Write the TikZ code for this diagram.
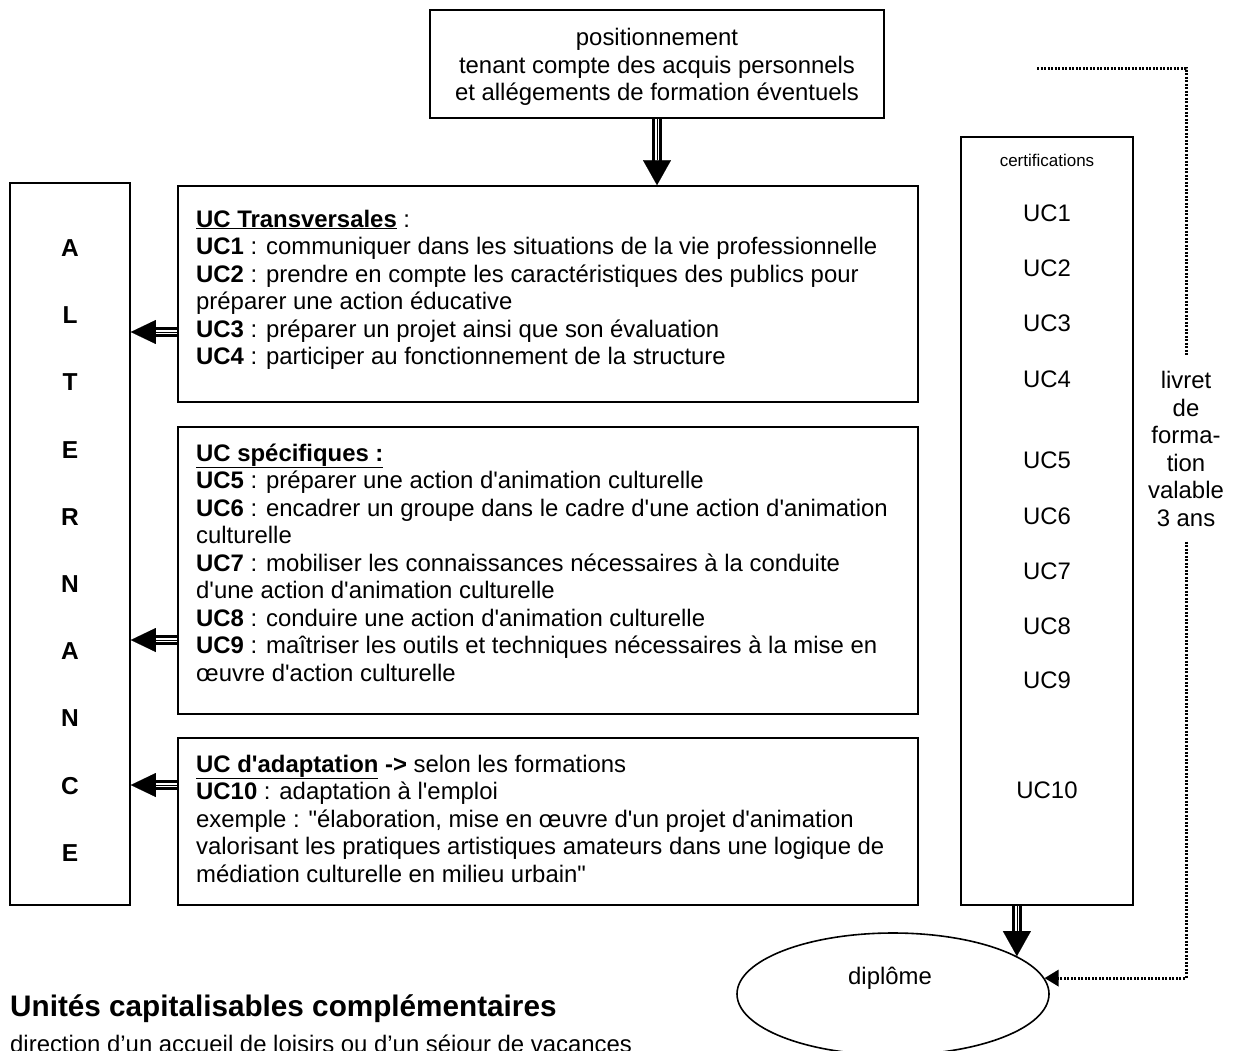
\documentclass[tikz,border=0pt]{standalone}
\usepackage{fontspec}
\newfontfamily\arialf{Liberation Sans}
\usetikzlibrary{arrows.meta,shapes.geometric,calc}
\begin{document}
\begin{tikzpicture}[x=1pt,y=-1pt,
  every node/.style={font=\arialf\fontsize{23.9}{27.5}\selectfont, inner sep=0pt},
  box/.style={draw, line width=1.6pt, rectangle, inner sep=0pt},
  txt/.style={anchor=north west, align=left},
  dshaft/.style={double, double distance=3.5pt, line width=3pt},
  dheadv/.style={line width=0.1pt, -{Triangle[width=28pt,length=25pt]}},
  dheadh/.style={line width=0.1pt, -{Triangle[width=24pt,length=25pt]}},
  dotline/.style={line width=3pt, dash pattern=on 2pt off 1.5pt},
]
\useasboundingbox (0,0) rectangle (1233,1050);

% boxes
\node[box, minimum width=454pt, minimum height=108pt] (top) at (657,64) {};
\node[box, minimum width=120pt, minimum height=722pt] (alt) at (70,544) {};
\node[box, minimum width=740pt, minimum height=216pt] (trans) at (548,294) {};
\node[box, minimum width=740pt, minimum height=287pt] (spec) at (548,570.5) {};
\node[box, minimum width=740pt, minimum height=167pt] (adapt) at (548,821.5) {};
\node[box, minimum width=172pt, minimum height=768pt] (certif) at (1047,521) {};
\node[draw, ellipse, line width=1.6pt, minimum width=312pt, minimum height=122pt] (diplome) at (893,994) {};

% texts
\node[align=center] (toptxt) at (657,67) {positionnement\\tenant compte des acquis personnels\\et allégements de formation éventuels};

\node[align=center, font=\arialf\bfseries\fontsize{24.5}{67.2}\selectfont] (alttxt) at (70,550.5) {A\\L\\T\\E\\R\\N\\A\\N\\C\\E};

\node[txt] (transtxt) at (196,209.5) {\underline{\textbf{UC Transversales}} :\\
\textbf{UC1} : communiquer dans les situations de la vie professionnelle\\
\textbf{UC2} : prendre en compte les caractéristiques des publics pour\\
préparer une action éducative\\
\textbf{UC3} : préparer un projet ainsi que son évaluation\\
\textbf{UC4} : participer au fonctionnement de la structure};

\node[txt] (spectxt) at (196,443.5) {\underline{\textbf{UC spécifiques :}}\\
\textbf{UC5} : préparer une action d'animation culturelle\\
\textbf{UC6} : encadrer un groupe dans le cadre d'une action d'animation\\
culturelle\\
\textbf{UC7} : mobiliser les connaissances nécessaires à la conduite\\
d'une action d'animation culturelle\\
\textbf{UC8} : conduire une action d'animation culturelle\\
\textbf{UC9} : maîtriser les outils et techniques nécessaires à la mise en\\
œuvre d'action culturelle};

\node[txt] (adapttxt) at (196,754.5) {\underline{\textbf{UC d'adaptation}} \textbf{->} selon les formations\\
\textbf{UC10} : adaptation à l'emploi\\
exemple : "élaboration, mise en œuvre d'un projet d'animation\\
valorisant les pratiques artistiques amateurs dans une logique de\\
médiation culturelle en milieu urbain"};

\node[font=\arialf\fontsize{17}{20}\selectfont] (certtitle) at (1047,160) {certifications};
\node (c1) at (1047,213) {UC1};
\node (c2) at (1047,268) {UC2};
\node (c3) at (1047,323) {UC3};
\node (c4) at (1047,379) {UC4};
\node (c5) at (1047,460) {UC5};
\node (c6) at (1047,516) {UC6};
\node (c7) at (1047,571) {UC7};
\node (c8) at (1047,626) {UC8};
\node (c9) at (1047,680) {UC9};
\node (c10) at (1047,790) {UC10};

\node[align=center, inner sep=15pt] (livret) at (1186,449) {livret\\de\\forma-\\tion\\valable\\3 ans};

\node (diptxt) at (890,978) {diplôme};

\node[anchor=base west, font=\arialf\bfseries\fontsize{29.7}{34}\selectfont] (uccomp) at (10,1016) {Unités capitalisables complémentaires};
\node[anchor=base west] (direction) at (10,1052) {direction d’un accueil de loisirs ou d’un séjour de vacances};

% arrows
\draw[dshaft, shorten >=23pt] (top.south) -- (trans.north -| top.south);
\draw[dheadv] (top.south) -- (trans.north -| top.south);

\draw[dshaft, shorten >=23pt] ([yshift=-38pt]trans.west) -- ([yshift=-38pt]trans.west -| alt.east);
\draw[dheadh] ([yshift=-38pt]trans.west) -- ([yshift=-38pt]trans.west -| alt.east);

\draw[dshaft, shorten >=23pt] ([yshift=-69.5pt]spec.west) -- ([yshift=-69.5pt]spec.west -| alt.east);
\draw[dheadh] ([yshift=-69.5pt]spec.west) -- ([yshift=-69.5pt]spec.west -| alt.east);

\draw[dshaft, shorten >=23pt] ([yshift=36.5pt]adapt.west) -- ([yshift=36.5pt]adapt.west -| alt.east);
\draw[dheadh] ([yshift=36.5pt]adapt.west) -- ([yshift=36.5pt]adapt.west -| alt.east);

\draw[dshaft, shorten >=23pt] (certif.south -| diplome.17) -- (diplome.17);
\draw[dheadv] (certif.south -| diplome.17) -- (diplome.17);

% dotted
\coordinate (dstart) at (1037,68);
\draw[dotline] (dstart) -| (livret.north);
\draw[dotline, -{Triangle[width=16pt,length=14pt]}] (livret.south) |- (diplome.6);
\end{tikzpicture}
\end{document}
